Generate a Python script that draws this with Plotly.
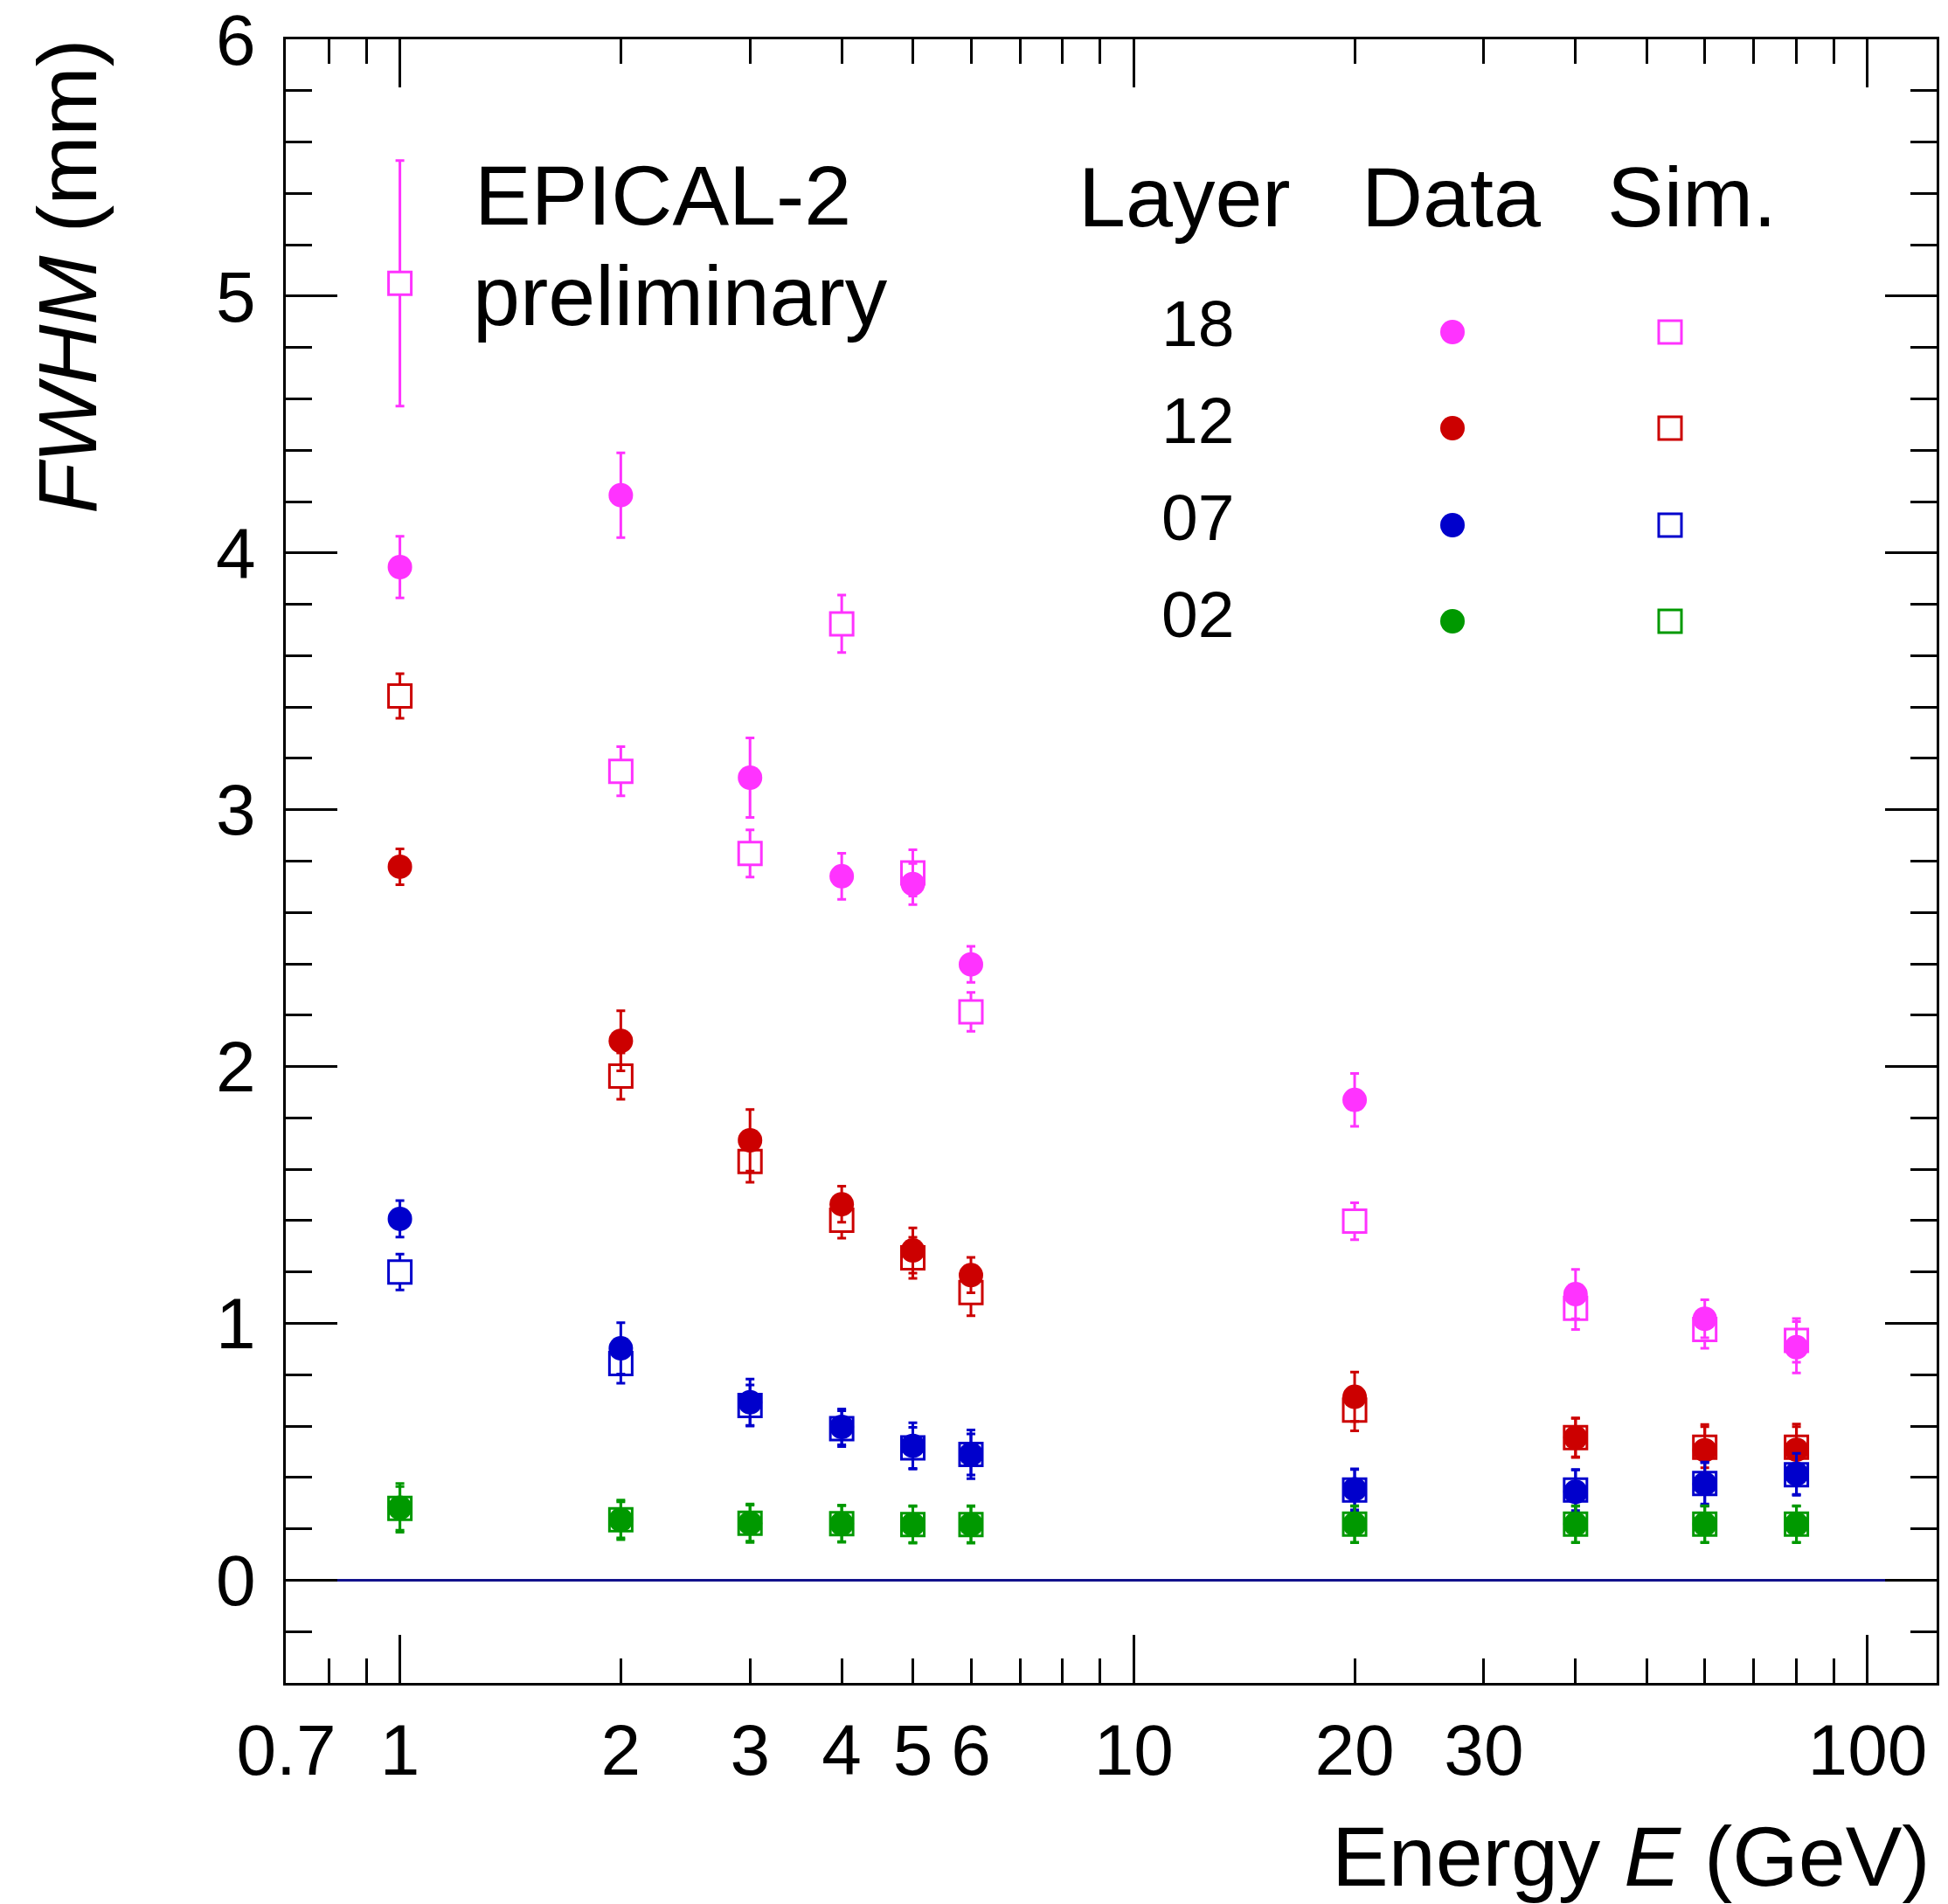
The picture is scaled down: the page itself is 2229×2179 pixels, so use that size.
import math
import plotly.graph_objects as go

# Beam energies (GeV)
energy = [1, 2, 3, 4, 5, 6, 20, 40, 60, 80]

# Layer 18
data_18 = [3.945, 4.225, 3.125, 2.741, 2.711, 2.398, 1.870, 1.114, 1.018, 0.907]
data_18_err = [0.120, 0.165, 0.155, 0.090, 0.080, 0.070, 0.103, 0.096, 0.074, 0.100]
sim_18 = [5.050, 3.150, 2.830, 3.724, 2.754, 2.213, 1.398, 1.059, 0.976, 0.934]
sim_18_err = [0.478, 0.096, 0.092, 0.112, 0.090, 0.076, 0.072, 0.083, 0.073, 0.085]

# Layer 12
data_12 = [2.778, 2.100, 1.713, 1.464, 1.284, 1.188, 0.714, 0.555, 0.506, 0.508]
data_12_err = [0.070, 0.117, 0.120, 0.070, 0.088, 0.069, 0.096, 0.077, 0.100, 0.100]
sim_12 = [3.443, 1.963, 1.630, 1.402, 1.255, 1.120, 0.662, 0.555, 0.518, 0.518]
sim_12_err = [0.087, 0.090, 0.080, 0.070, 0.080, 0.090, 0.080, 0.075, 0.080, 0.080]

# Layer 07
data_07 = [1.407, 0.903, 0.693, 0.597, 0.523, 0.490, 0.354, 0.344, 0.375, 0.414]
data_07_err = [0.071, 0.100, 0.090, 0.070, 0.090, 0.095, 0.080, 0.085, 0.085, 0.080]
sim_07 = [1.200, 0.844, 0.680, 0.590, 0.515, 0.490, 0.351, 0.351, 0.377, 0.411]
sim_07_err = [0.070, 0.077, 0.080, 0.070, 0.080, 0.080, 0.080, 0.080, 0.080, 0.080]

# Layer 02
data_02 = [0.282, 0.235, 0.222, 0.220, 0.217, 0.217, 0.218, 0.218, 0.218, 0.218]
data_02_err = [0.095, 0.077, 0.075, 0.072, 0.073, 0.073, 0.072, 0.072, 0.072, 0.072]
sim_02 = [0.280, 0.235, 0.222, 0.220, 0.217, 0.217, 0.218, 0.218, 0.218, 0.218]
sim_02_err = [0.085, 0.070, 0.070, 0.070, 0.070, 0.070, 0.070, 0.070, 0.070, 0.070]

layer_names = ["18", "12", "07", "02"]
layer_colors = ["#ff33ff", "#cc0000", "#0000cc", "#009900"]
data_sets = [(data_18, data_18_err), (data_12, data_12_err), (data_07, data_07_err), (data_02, data_02_err)]
sim_sets = [(sim_18, sim_18_err), (sim_12, sim_12_err), (sim_07, sim_07_err), (sim_02, sim_02_err)]

# Axis ticks
x_label_vals = [0.7, 1, 2, 3, 4, 5, 6, 10, 20, 30, 100]
x_label_text = ["0.7", "1", "2", "3", "4", "5", "6", "10", "20", "30", "100"]
x_minor_vals = [0.8, 0.9, 7, 8, 9, 40, 50, 60, 70, 80, 90]
x_major_vals = [1, 10, 100]
x_range = [0.699, 124.2]
y_range = [-0.4, 6.0]

FONT = "Liberation Sans, Arial, Helvetica, sans-serif"
W, H = 2229, 2179
ML, MR, MT, MB = 327, 13, 45, 253
PW, PH = W - ML - MR, H - MT - MB


def px_x(p):
    return (p - ML) / PW


def px_y(p):
    return (H - MB - p) / PH


fig = go.Figure()

# Simulation: open squares (drawn first)
for name, col, (vals, errs) in zip(layer_names, layer_colors, sim_sets):
    fig.add_trace(go.Scatter(
        x=energy, y=vals, mode="markers", name=f"Sim. {name}",
        marker=dict(symbol="square", size=26, color="white",
                    line=dict(color=col, width=3)),
        error_y=dict(type="data", array=errs, color=col, thickness=3, width=5),
        showlegend=False,
    ))

# Data: full circles
for name, col, (vals, errs) in zip(layer_names, layer_colors, data_sets):
    fig.add_trace(go.Scatter(
        x=energy, y=vals, mode="markers", name=f"Data {name}",
        marker=dict(symbol="circle", size=28, color=col, line=dict(width=0)),
        error_y=dict(type="data", array=errs, color=col, thickness=3, width=5),
        showlegend=False,
    ))

# Long major ticks on the log axis live on an overlaid axis
fig.add_trace(go.Scatter(x=[], y=[], xaxis="x2", yaxis="y", showlegend=False))

# Legend key markers on a unit overlay axis
row_y = [px_y(380), px_y(490), px_y(601), px_y(711)]
for col, ry in zip(layer_colors, row_y):
    fig.add_trace(go.Scatter(
        x=[px_x(1662)], y=[ry], xaxis="x3", yaxis="y3", mode="markers",
        marker=dict(symbol="circle", size=28, color=col, line=dict(width=0)),
        showlegend=False, hoverinfo="skip",
    ))
    fig.add_trace(go.Scatter(
        x=[px_x(1911)], y=[ry], xaxis="x3", yaxis="y3", mode="markers",
        marker=dict(symbol="square", size=26, color="white", line=dict(color=col, width=3)),
        showlegend=False, hoverinfo="skip",
    ))

log_range = [math.log10(x_range[0]), math.log10(x_range[1])]

fig.update_layout(
    width=W, height=H,
    margin=dict(l=ML, r=MR, t=MT, b=MB, pad=0, autoexpand=False),
    paper_bgcolor="white", plot_bgcolor="white",
    font=dict(family=FONT, color="black"),
    showlegend=False,
    xaxis=dict(
        type="log", range=log_range, automargin=False,
        tickmode="array", tickvals=x_label_vals, ticktext=x_label_text,
        ticks="inside", ticklen=28, tickwidth=3, tickcolor="black",
        showline=True, linewidth=3, linecolor="black", mirror="ticks",
        showgrid=False, zeroline=False,
        tickfont=dict(size=82, family=FONT, color="black"),
        ticklabelstandoff=4, ticklabeloverflow="allow",
        minor=dict(tickmode="array", tickvals=x_minor_vals, ticks="inside",
                   ticklen=28, tickwidth=3, tickcolor="black", showgrid=False),
    ),
    xaxis2=dict(
        type="log", range=log_range, overlaying="x", anchor="y", side="bottom",
        automargin=False,
        tickmode="array", tickvals=x_major_vals, showticklabels=False,
        ticks="inside", ticklen=55, tickwidth=3, tickcolor="black",
        showline=True, linewidth=3, linecolor="black", mirror="ticks",
        showgrid=False, zeroline=False,
    ),
    yaxis=dict(
        range=y_range, tickmode="array", tickvals=[0, 1, 2, 3, 4, 5, 6],
        automargin=False,
        ticks="inside", ticklen=59, tickwidth=3, tickcolor="black",
        showline=True, linewidth=3, linecolor="black", mirror="ticks",
        showgrid=False,
        zeroline=True, zerolinecolor="#12128c", zerolinewidth=3,
        tickfont=dict(size=82, family=FONT, color="black"),
        ticklabelstandoff=15, ticklabeloverflow="allow",
        minor=dict(dtick=0.2, tick0=0, ticks="inside", ticklen=30, tickwidth=3,
                   tickcolor="black", showgrid=False),
    ),
    xaxis3=dict(range=[0, 1], overlaying="x", anchor="y3", visible=False, automargin=False),
    yaxis3=dict(range=[0, 1], overlaying="y", anchor="x3", visible=False, automargin=False),
)

annotations = [
    # axis titles
    dict(text="Energy <i>E</i> (GeV)", x=px_x(2211), y=px_y(2124),
         xanchor="right", yanchor="middle", font=dict(size=97)),
    dict(text="<i>FWHM</i> (mm)", x=px_x(77), y=px_y(316), textangle=-90,
         xanchor="center", yanchor="middle", font=dict(size=95)),
    # labels
    dict(text="EPICAL-2", x=px_x(541), y=px_y(223), xanchor="left", yanchor="middle",
         font=dict(size=97)),
    dict(text="preliminary", x=px_x(539), y=px_y(338), xanchor="left", yanchor="middle",
         font=dict(size=97)),
    dict(text="Layer", x=px_x(1355), y=px_y(226), xanchor="center", yanchor="middle",
         font=dict(size=97)),
    dict(text="Data", x=px_x(1660), y=px_y(226), xanchor="center", yanchor="middle",
         font=dict(size=97)),
    dict(text="Sim.", x=px_x(1936), y=px_y(226), xanchor="center", yanchor="middle",
         font=dict(size=97)),
]
for name, ty in zip(layer_names, [370, 481, 592, 703]):
    annotations.append(dict(text=name, x=px_x(1370), y=px_y(ty), xanchor="center",
                            yanchor="middle", font=dict(size=75)))

for a in annotations:
    a.update(xref="paper", yref="paper", showarrow=False)
    a["font"] = dict(family=FONT, color="black", **a["font"])
fig.update_layout(annotations=annotations)

fig.write_html("out.html")
